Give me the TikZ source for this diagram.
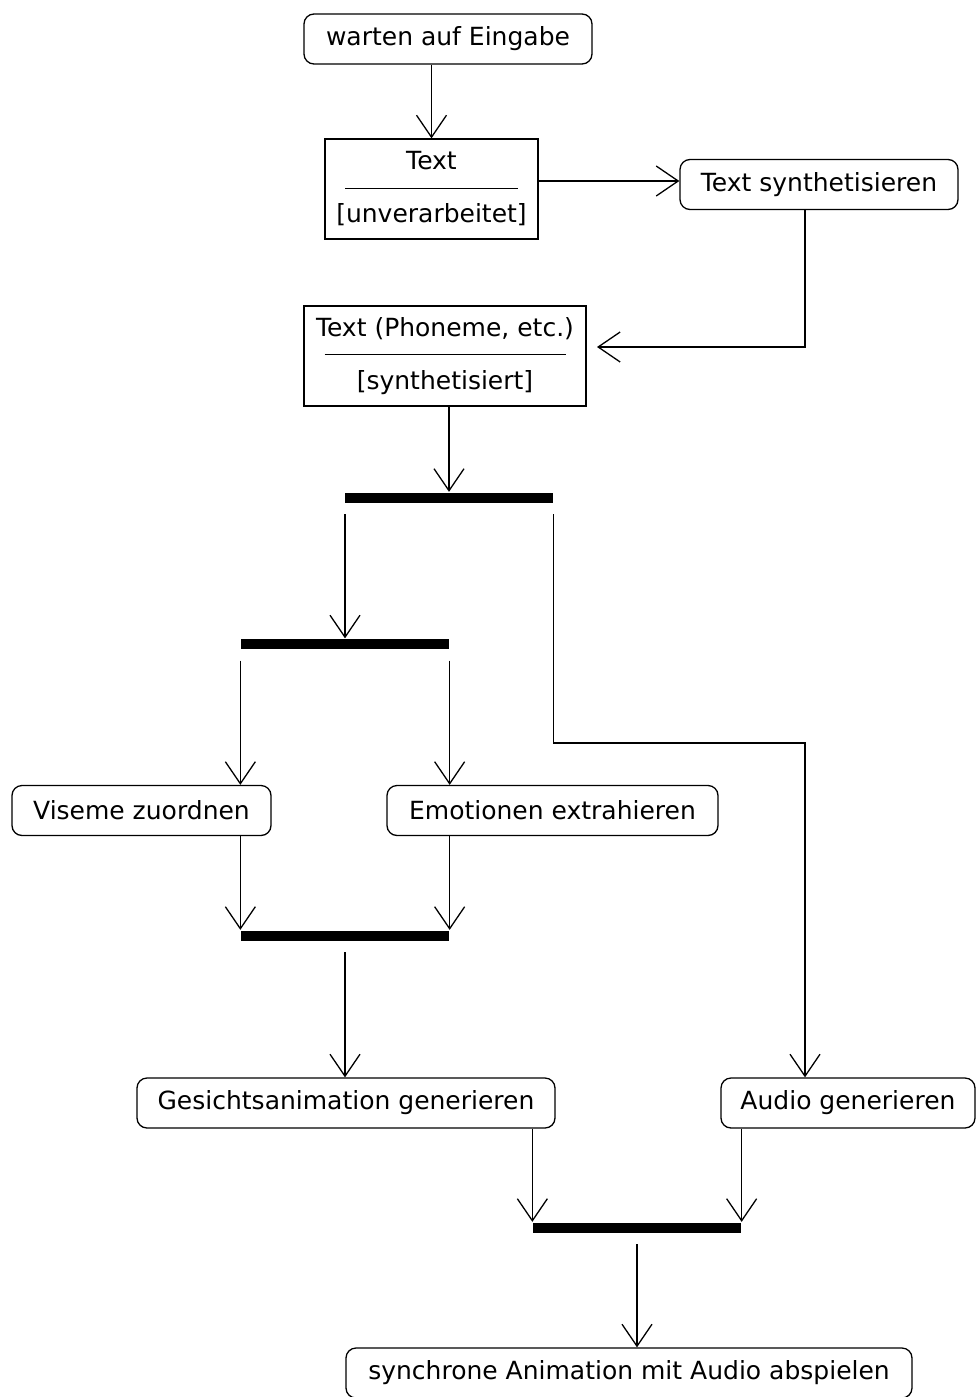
\documentclass[tikz,border=0pt]{standalone}
\usepackage{fontspec}
\setmainfont{DejaVu Sans}
\usetikzlibrary{positioning}
\usetikzlibrary{arrows.meta}

\begin{document}
\begin{tikzpicture}[x=0.5pt, y=-0.5pt,
	line width=0.65pt,
	font=\fontsize{12.5pt}{13.25pt}\selectfont,
	action/.style={draw, rounded corners=5pt, minimum height=25pt, inner sep=0pt},
	object/.style={draw, minimum height=50pt, inner sep=0pt, align=center},
	bar/.style={fill=black, minimum width=104pt, minimum height=5pt, inner sep=0pt},
	flow/.style={-{Straight Barb[length=11pt, width=15pt]}},
	fromBar/.style={flow, shorten <=5.5pt}]
	
	\useasboundingbox (0,0) rectangle (976,1397);
	
	% INPUT
	\node[action, minimum width=144pt] (warten) at (448,39) {warten auf Eingabe};
	\node[object, minimum width=106.5pt] (txt) at (431.5,189) {Text\\\rule[3.75pt]{86.5pt}{0.6pt}\\{[}unverarbeitet{]}};
	\node[action, minimum width=139pt] (synth) at (819,184.5) {Text synthetisieren};
	\node[object, minimum width=141pt] (phon) at (445,356) {Text (Phoneme, etc.)\\\rule[3.75pt]{120.5pt}{0.6pt}\\{[}synthetisiert{]}};
	
	\coordinate (colR) at (805,0);
	\coordinate (bend) at (805,743);
	\coordinate (toSynth) at (538,181);
	\coordinate (toPhon) at (586,347);
	
	\draw[flow] (warten.south -| txt.north) -- (txt.north);
	\draw[flow] (toSynth) -- (toSynth -| synth.west);
	\draw[flow, shorten >=5.5pt] (synth.south -| colR) |- (toPhon);
	
	% FORKS
	\node[bar] (fork1) at (449,497.5) {};
	\node[bar] (fork2) at (345,644) {};
	
	\draw[flow] (phon.south -| fork1.north) -- (fork1.north);
	\draw[fromBar] (fork2.north |- fork1.south) -- (fork2.north);
	
	% VISEME / EMOTIONEN
	\node[action, minimum width=129.5pt] (visem) at (141.5,810.5) {Viseme zuordnen};
	\node[action, minimum width=165.5pt] (emot) at (552.5,810.5) {Emotionen extrahieren};
	
	\draw[fromBar] (fork2.south west) -- (fork2.south west |- visem.north);
	\draw[fromBar] (fork2.south east) -- (fork2.south east |- emot.north);
	
	\node[bar] (join1) at (345,935.5) {};
	
	\draw[flow] (join1.north west |- visem.south) -- (join1.north west);
	\draw[flow] (join1.north east |- emot.south) -- (join1.north east);
	
	% GENERIEREN
	\node[action, minimum width=209pt] (gesicht) at (346,1103) {Gesichtsanimation generieren};
	\node[action, minimum width=127pt] (audio) at (848,1103) {Audio generieren};
	
	\draw[fromBar] (join1.south) -- (join1.south |- gesicht.north);
	\draw[fromBar] (fork1.south east) |- (bend) -- (audio.north -| colR);
	
	% OUTPUT
	\node[bar] (join2) at (637,1227.5) {};
	\node[action, minimum width=283pt] (sync) at (629,1373) {synchrone Animation mit Audio abspielen};
	
	\draw[flow] (join2.north west |- gesicht.south) -- (join2.north west);
	\draw[flow] (join2.north east |- audio.south) -- (join2.north east);
	\draw[fromBar] (join2.south) -- (join2.south |- sync.north);
\end{tikzpicture}
\end{document}
